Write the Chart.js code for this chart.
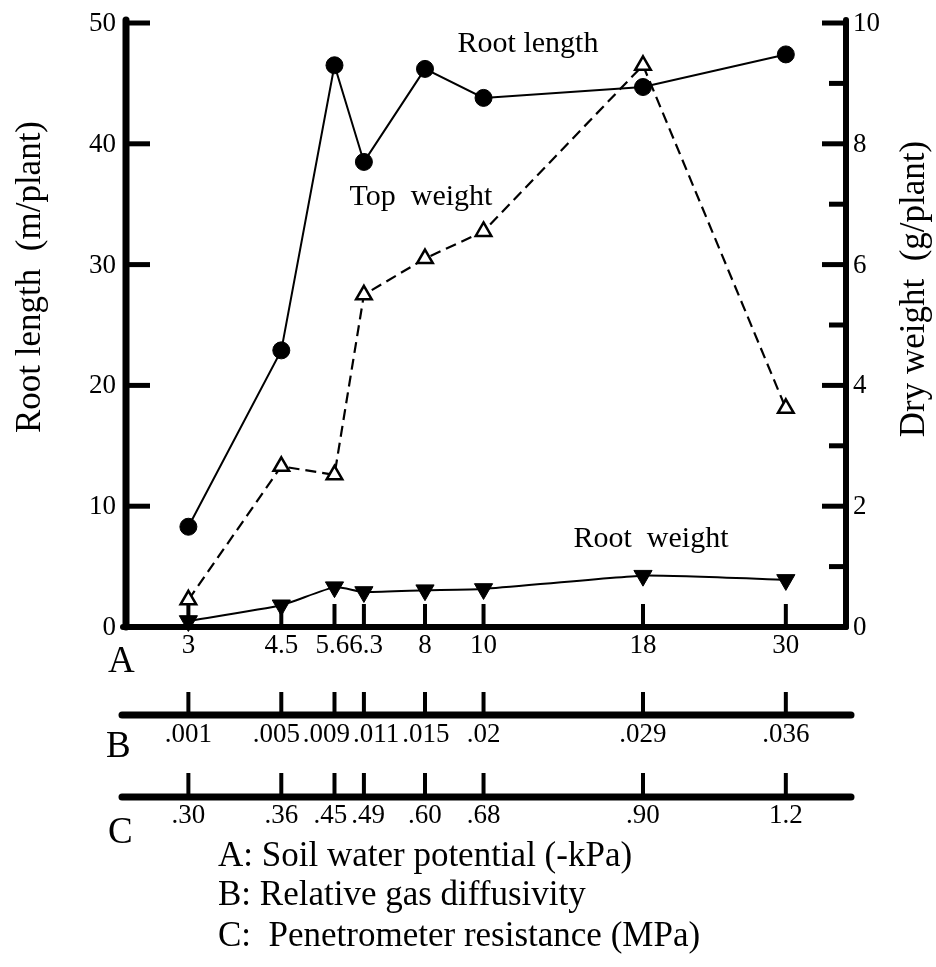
<!DOCTYPE html>
<html>
<head>
<meta charset="utf-8">
<title>Root length and dry weight vs soil water potential</title>
<script src="https://cdn.jsdelivr.net/npm/chart.js@4/dist/chart.umd.min.js"></script>
<style>
  html, body { margin: 0; padding: 0; background: #fff; }
  canvas { display: block; }
</style>
</head>
<body>
<canvas id="chart" width="936" height="967"></canvas>
<script>
// treatments: soil water potential (-kPa), with matching B and C readings
const potential       = [3, 4.5, 5.6, 6.3, 8, 10, 18, 30];
const potentialLabels = ["3", "4.5", "5.6", "6.3", "8", "10", "18", "30"];
const diffusivity     = [".001", ".005", ".009", ".011", ".015", ".02", ".029", ".036"];
const resistance      = [".30", ".36", ".45", ".49", ".60", ".68", ".90", "1.2"];

// series
const rootLength = [8.3, 22.9, 46.5, 38.5, 46.2, 43.8, 44.7, 47.4];   // m/plant
const topWeight  = [0.45, 2.66, 2.52, 5.5, 6.1, 6.55, 9.3, 3.62];     // g/plant
const rootWeight = [0.1, 0.36, 0.66, 0.58, 0.61, 0.63, 0.85, 0.78];   // g/plant

const leftTicks  = [0, 10, 20, 30, 40, 50];
const rightTicks = [0, 2, 4, 6, 8, 10];
const rightMinor = [1, 3, 5, 7, 9];

const SERIF = '"Liberation Serif", "DejaVu Serif", serif';

// the x axis of the figure is spaced as log(potential + 1)
class Log1pScale extends Chart.LinearScale {
  _lo() { return Math.log10(this.min + 1); }
  _hi() { return Math.log10(this.max + 1); }
  getPixelForValue(v) {
    return this.getPixelForDecimal((Math.log10(v + 1) - this._lo()) / (this._hi() - this._lo()));
  }
  getValueForPixel(p) {
    const d = this.getDecimalForPixel(p);
    return Math.pow(10, this._lo() + d * (this._hi() - this._lo())) - 1;
  }
}
Log1pScale.id = "log1p";
Log1pScale.defaults = Chart.LinearScale.defaults;
Chart.register(Log1pScale);

const pts = (vals) => vals.map((v, i) => ({ x: potential[i], y: v }));

function seg(ctx, x1, y1, x2, y2) {
  ctx.beginPath();
  ctx.moveTo(x1, y1);
  ctx.lineTo(x2, y2);
  ctx.stroke();
}

// centre labels on their ticks, pushing neighbours apart where they would collide
function spreadLabels(ctx, texts, centres, gap) {
  const w = texts.map(t => ctx.measureText(t).width);
  const c = centres.slice();
  for (let pass = 0; pass < 4; pass++) {
    for (let i = 0; i < c.length - 1; i++) {
      const overlap = (c[i] + w[i] / 2 + gap) - (c[i + 1] - w[i + 1] / 2);
      if (overlap > 0) {
        c[i] -= overlap / 2;
        c[i + 1] += overlap / 2;
      }
    }
  }
  return c;
}

// axes, ticks and the two extra scales (B, C) under the plot
const frame = {
  id: "frame",
  beforeDatasetsDraw(chart) {
    const { ctx, chartArea: a, scales } = chart;
    const x = scales.x, y = scales.y, y2 = scales.y2;
    ctx.save();
    ctx.strokeStyle = "#000";
    ctx.lineCap = "round";

    // left / right / bottom axis
    ctx.lineWidth = 7;
    seg(ctx, a.left, a.top - 3, a.left, a.bottom);
    ctx.lineWidth = 6;
    seg(ctx, a.right, a.top - 3, a.right, a.bottom);
    seg(ctx, a.left - 3, a.bottom, a.right, a.bottom);

    ctx.lineCap = "butt";
    ctx.lineWidth = 5;
    leftTicks.forEach(v => seg(ctx, a.left, y.getPixelForValue(v), a.left + 24, y.getPixelForValue(v)));
    rightTicks.forEach(v => seg(ctx, a.right, y2.getPixelForValue(v), a.right - 24, y2.getPixelForValue(v)));
    rightMinor.forEach(v => seg(ctx, a.right, y2.getPixelForValue(v), a.right - 17, y2.getPixelForValue(v)));

    // B and C rulers
    const rowB = a.bottom + 88, rowC = a.bottom + 170;
    ctx.lineCap = "round";
    ctx.lineWidth = 7;
    seg(ctx, a.left - 4, rowB, a.right + 5, rowB);
    seg(ctx, a.left - 4, rowC, a.right + 5, rowC);

    ctx.lineCap = "butt";
    ctx.lineWidth = 4;
    potential.forEach(v => {
      const px = x.getPixelForValue(v);
      seg(ctx, px, a.bottom - 23, px, a.bottom);
      seg(ctx, px, rowB - 23, px, rowB);
      seg(ctx, px, rowC - 24, px, rowC);
    });
    ctx.restore();
  },

  afterDraw(chart) {
    const { ctx, chartArea: a, scales } = chart;
    const x = scales.x, y = scales.y, y2 = scales.y2;
    const rowB = a.bottom + 88, rowC = a.bottom + 170;
    ctx.save();
    ctx.fillStyle = "#000";

    // tick labels
    ctx.font = `27px ${SERIF}`;
    ctx.textBaseline = "middle";
    ctx.textAlign = "right";
    leftTicks.forEach(v => ctx.fillText(String(v), a.left - 10, y.getPixelForValue(v) + 1));
    ctx.textAlign = "left";
    rightTicks.forEach(v => ctx.fillText(String(v), a.right + 7, y2.getPixelForValue(v) + 1));

    ctx.textAlign = "center";
    ctx.textBaseline = "alphabetic";
    const tickPx = potential.map(v => x.getPixelForValue(v));
    const cA = spreadLabels(ctx, potentialLabels, tickPx, 0);
    const cB = spreadLabels(ctx, diffusivity, tickPx, 3);
    const cC = spreadLabels(ctx, resistance, tickPx, 4);
    potential.forEach((v, i) => {
      ctx.fillText(potentialLabels[i], cA[i], a.bottom + 26);
      ctx.fillText(diffusivity[i], cB[i], rowB + 27);
      ctx.fillText(resistance[i], cC[i], rowC + 26);
    });

    // row letters
    ctx.font = `37px ${SERIF}`;
    ctx.textAlign = "left";
    ctx.fillText("A", 108, a.bottom + 45);
    ctx.fillText("B", 106, rowB + 42);
    ctx.fillText("C", 108, rowC + 46);

    // axis titles
    ctx.font = `35px ${SERIF}`;
    ctx.textAlign = "center";
    ctx.textBaseline = "middle";
    ctx.save();
    ctx.translate(31, 277);
    ctx.rotate(-Math.PI / 2);
    ctx.fillText("Root length  (m/plant)", 0, 0);
    ctx.restore();
    ctx.save();
    ctx.translate(915, 289);
    ctx.rotate(-Math.PI / 2);
    ctx.fillText("Dry weight  (g/plant)", 0, 0);
    ctx.restore();

    // series captions
    ctx.font = `30px ${SERIF}`;
    ctx.textBaseline = "alphabetic";
    ctx.fillText("Root length", 528, 52);
    ctx.fillText("Top  weight", 421, 205);
    ctx.fillText("Root  weight", 651, 547);

    // key for A, B, C
    ctx.font = `35px ${SERIF}`;
    ctx.textAlign = "left";
    ctx.fillText("A: Soil water potential (-kPa)", 218, 866);
    ctx.fillText("B: Relative gas diffusivity", 218, 905);
    ctx.fillText("C:  Penetrometer resistance (MPa)", 218, 946);
    ctx.restore();
  }
};

const bg = {
  id: "bg",
  beforeDraw(chart) {
    const ctx = chart.ctx;
    ctx.save();
    ctx.fillStyle = "#fff";
    ctx.fillRect(0, 0, chart.width, chart.height);
    ctx.restore();
  }
};

new Chart(document.getElementById("chart"), {
  type: "line",
  data: {
    datasets: [
      {
        label: "Root length",
        data: pts(rootLength),
        yAxisID: "y",
        borderColor: "#000",
        borderWidth: 2,
        pointStyle: "circle",
        pointRadius: 8.5,
        pointBackgroundColor: "#000",
        pointBorderColor: "#000",
        pointBorderWidth: 1,
        clip: false
      },
      {
        label: "Top weight",
        data: pts(topWeight),
        yAxisID: "y2",
        borderColor: "#000",
        borderWidth: 2.2,
        borderDash: [11, 6],
        pointStyle: "triangle",
        pointRadius: 9,
        pointBackgroundColor: "#fff",
        pointBorderColor: "#000",
        pointBorderWidth: 2.5,
        clip: false
      },
      {
        label: "Root weight",
        data: pts(rootWeight),
        yAxisID: "y2",
        borderColor: "#000",
        borderWidth: 2,
        tension: 0.15,
        pointStyle: "triangle",
        pointRotation: 180,
        pointRadius: 10.5,
        pointBackgroundColor: "#000",
        pointBorderColor: "#000",
        pointBorderWidth: 1,
        clip: false
      }
    ]
  },
  options: {
    responsive: false,
    animation: false,
    layout: { padding: { left: 126, right: 90, top: 23, bottom: 340 } },
    plugins: { legend: { display: false }, tooltip: { enabled: false } },
    scales: {
      x:  { type: "log1p", min: 2.23, max: 37.1, display: false },
      y:  { type: "linear", min: 0, max: 50, display: false },
      y2: { type: "linear", min: 0, max: 10, display: false, position: "right" }
    }
  },
  plugins: [bg, frame]
});
</script>
</body>
</html>
